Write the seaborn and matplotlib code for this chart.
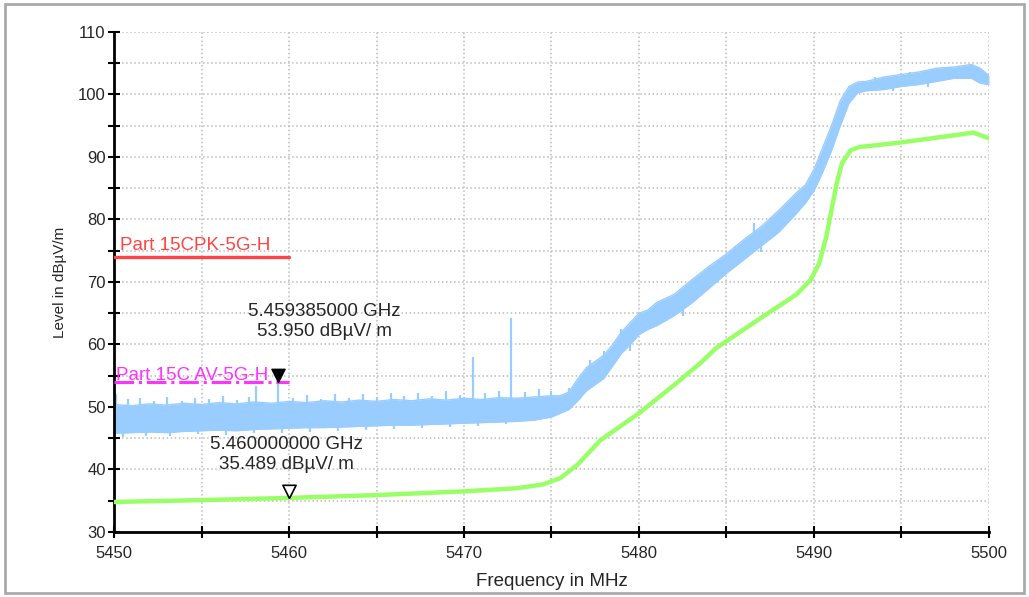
import numpy as np
import pandas as pd
import matplotlib
matplotlib.use("Agg")
import matplotlib.pyplot as plt
from matplotlib.patches import Rectangle
import seaborn as sns

# peak trace (blue), body of the noisy band as lower / upper envelope
pk_freq = [5450, 5451, 5452, 5453, 5454, 5455, 5456, 5457, 5458, 5459,
           5460, 5461, 5462, 5463, 5464, 5465, 5466, 5467, 5468, 5469,
           5470, 5471, 5472, 5473, 5474, 5475, 5475.5, 5476, 5476.5, 5477,
           5477.5, 5478, 5478.5, 5479, 5479.5, 5480, 5480.5, 5481, 5482, 5483,
           5484, 5485, 5486, 5487, 5488, 5489, 5489.5, 5490, 5490.5, 5491,
           5491.5, 5492, 5492.5, 5493, 5494, 5495, 5496, 5497, 5498, 5499,
           5499.5, 5500]
pk_lo = [45.8, 45.9, 46.0, 45.9, 46.1, 46.2, 46.3, 46.2, 46.4, 46.5,
         46.6, 46.7, 46.7, 46.8, 46.9, 47.0, 47.1, 47.1, 47.2, 47.3,
         47.4, 47.5, 47.6, 47.7, 47.9, 48.4, 49.0, 49.6, 51.0, 52.6,
         53.6, 54.6, 56.6, 58.6, 60.0, 61.6, 62.4, 63.0, 64.6, 66.6,
         69.0, 71.4, 73.6, 75.8, 78.0, 81.0, 82.6, 84.6, 87.6, 91.0,
         95.0, 98.6, 100.3, 100.6, 100.8, 101.3, 101.6, 102.1, 102.6, 102.6,
         101.8, 101.6]
pk_hi = [50.4, 50.2, 50.5, 50.3, 50.6, 50.4, 50.7, 50.5, 50.8, 50.6,
         50.9, 50.7, 51.0, 50.8, 51.1, 50.9, 51.2, 51.0, 51.3, 51.1,
         51.4, 51.2, 51.5, 51.4, 51.6, 51.8, 51.8, 52.4, 54.5, 56.3,
         57.3, 58.3, 60.0, 62.0, 63.5, 65.0, 65.5, 66.7, 68.0, 70.3,
         72.5, 74.5, 76.8, 78.9, 81.5, 84.3, 85.5, 88.0, 91.5, 95.0,
         99.0, 101.3, 102.0, 102.1, 102.8, 103.2, 103.6, 104.2, 104.4, 104.8,
         104.2, 103.0]

# noise peaks sticking out above the band
up_freq = [5450.1, 5450.8, 5451.5, 5452.3, 5453.0, 5453.9, 5454.6, 5455.4, 5456.2, 5457.0,
           5457.7, 5458.1, 5459.385, 5460.2, 5461.0, 5461.8, 5462.6, 5463.4, 5464.2, 5465.0,
           5465.8, 5466.6, 5467.4, 5468.2, 5469.0, 5469.8, 5470.5, 5471.2, 5472.0, 5472.7,
           5473.5, 5474.3, 5475.0, 5476.0, 5477.2, 5478.0, 5479.0, 5484.5, 5485.5, 5486.6,
           5487.5, 5488.5, 5493.5, 5495.5, 5497.5, 5499.0]
up_top = [52.0, 51.2, 51.4, 50.9, 51.6, 51.0, 51.5, 51.2, 51.8, 51.1,
          51.6, 53.3, 53.95, 51.5, 51.9, 51.3, 52.0, 51.5, 52.1, 51.6,
          52.3, 51.8, 52.2, 51.7, 52.5, 51.9, 58.0, 52.2, 52.6, 64.2,
          52.4, 52.8, 52.5, 53.0, 57.5, 59.0, 62.5, 73.5, 75.8, 79.5,
          79.0, 82.5, 102.8, 103.6, 104.4, 104.9]

# noise dips below the band
dn_freq = [5450.5, 5451.8, 5453.2, 5454.8, 5456.4, 5458.0, 5459.6, 5461.2, 5462.8, 5464.4,
           5466.0, 5467.6, 5469.2, 5470.8, 5472.4, 5474.0, 5479.5, 5482.5, 5487.0, 5494.5,
           5496.5]
dn_bottom = [45.2, 45.4, 45.3, 45.6, 45.5, 45.8, 45.9, 46.0, 46.2, 46.3,
             46.5, 46.6, 46.8, 47.0, 47.2, 47.8, 59.0, 64.5, 74.8, 100.5,
             101.2]

# average trace (green)
av_freq = [5450, 5455, 5460, 5465, 5470, 5473, 5474.5, 5475.5, 5476.5, 5477.8,
           5480, 5482, 5483.5, 5484.4, 5487.1, 5489, 5489.8, 5490.3, 5490.7, 5491.0,
           5491.3, 5491.6, 5492.1, 5492.6, 5494.9, 5497.8, 5499.1, 5500]
av_level = [34.8, 35.1, 35.45, 35.9, 36.5, 37.0, 37.6, 38.6, 40.8, 44.7,
            49.0, 53.5, 57.0, 59.4, 64.5, 68.0, 70.3, 73.0, 77.2, 81.5,
            85.8, 89.0, 91.1, 91.6, 92.3, 93.4, 93.9, 93.0]

# limit lines
limit_freq = [5450, 5460]
pk_limit = [74, 74]
av_limit = [54, 54]

# markers
m1 = (5459.385, 53.950)
m2 = (5460.0, 35.489)

sns.set_style("white")
plt.rcParams['font.family'] = ['Liberation Sans', 'DejaVu Sans']

fig = plt.figure(figsize=(10.29, 5.97), dpi=100)
ax = fig.add_axes([0.1108, 0.1089, 0.8503, 0.8375])

blue = "#99ccff"
green = "#99ff66"

# peak trace
mid = (np.array(pk_lo) + np.array(pk_hi)) / 2
ax.fill_between(pk_freq, pk_lo, pk_hi, color=blue, lw=0, zorder=2)
sns.lineplot(x=pk_freq, y=pk_hi, color=blue, lw=1.0, ax=ax, zorder=2)
sns.lineplot(x=pk_freq, y=pk_lo, color=blue, lw=1.0, ax=ax, zorder=2)
ax.vlines(up_freq, np.interp(up_freq, pk_freq, mid), up_top,
          color=blue, lw=1.6, zorder=2)
ax.vlines(dn_freq, dn_bottom, np.interp(dn_freq, pk_freq, mid),
          color=blue, lw=1.6, zorder=2)

# average trace
av = pd.DataFrame({"freq": av_freq, "level": av_level})
sns.lineplot(data=av, x="freq", y="level", color=green, lw=3.2, ax=ax, zorder=3)

# limits
ax.plot(limit_freq, pk_limit, color="#ff4444", lw=2.4, zorder=4)
ax.text(5450.35, 74.4, "Part 15CPK-5G-H", color="#ff4444", fontsize=13.5,
        ha="left", va="bottom", zorder=4)
ax.plot(limit_freq, av_limit, color="#ff33ff", lw=2.2, ls="-.", zorder=4)
ax.text(5450.1, 53.7, "Part 15C AV-5G-H", color="#ff33ff", fontsize=13.5,
        ha="left", va="bottom", zorder=4)

# down triangle with its tip on the point
tri = [(0, 0), (-0.55, 1.1), (0.55, 1.1), (0, 0)]
ax.plot(*m1, marker=tri, ms=19, color="black", mec="black", zorder=5)
ax.plot(*m2, marker=tri, ms=19, color="white", mec="black", mew=1.2, zorder=5)

ax.annotate("5.459385000 GHz\n53.950 dBµV/ m", xy=m1, xytext=(33, 44),
            textcoords="offset points", ha="center", va="center",
            fontsize=13.5, linespacing=1.25, zorder=5)
ax.annotate("5.460000000 GHz\n35.489 dBµV/ m", xy=m2, xytext=(-2, 31),
            textcoords="offset points", ha="center", va="center",
            fontsize=13.5, linespacing=1.25, zorder=5)

ax.set_xlim(5450, 5500)
ax.set_ylim(30, 110)
ax.set_xticks(range(5450, 5501, 10))
ax.set_xticks(range(5455, 5500, 10), minor=True)
ax.set_yticks(range(30, 111, 10))
ax.set_yticks(range(35, 110, 10), minor=True)
ax.tick_params(axis="both", which="both", direction="inout", length=8,
               width=1.5, color="black", labelsize=12, bottom=True, left=True)
ax.tick_params(axis="x", pad=6)
ax.tick_params(axis="y", pad=2)
ax.grid(True, which="both", color="#bbbbbb", ls=":", lw=1.1)

for side in ["top", "right"]:
    ax.spines[side].set_visible(False)
for side in ["left", "bottom"]:
    ax.spines[side].set_color("black")
    ax.spines[side].set_linewidth(2)

ax.set_xlabel("Frequency in MHz", fontsize=13.5, labelpad=9)
ax.set_ylabel("Level in dBµV/m", fontsize=11, labelpad=8)

fig.patches.append(Rectangle((0.005, 0.006), 0.99, 0.988, transform=fig.transFigure,
                             fill=False, ec="#aaaaaa", lw=2))

fig.savefig("out.png", dpi=100)
